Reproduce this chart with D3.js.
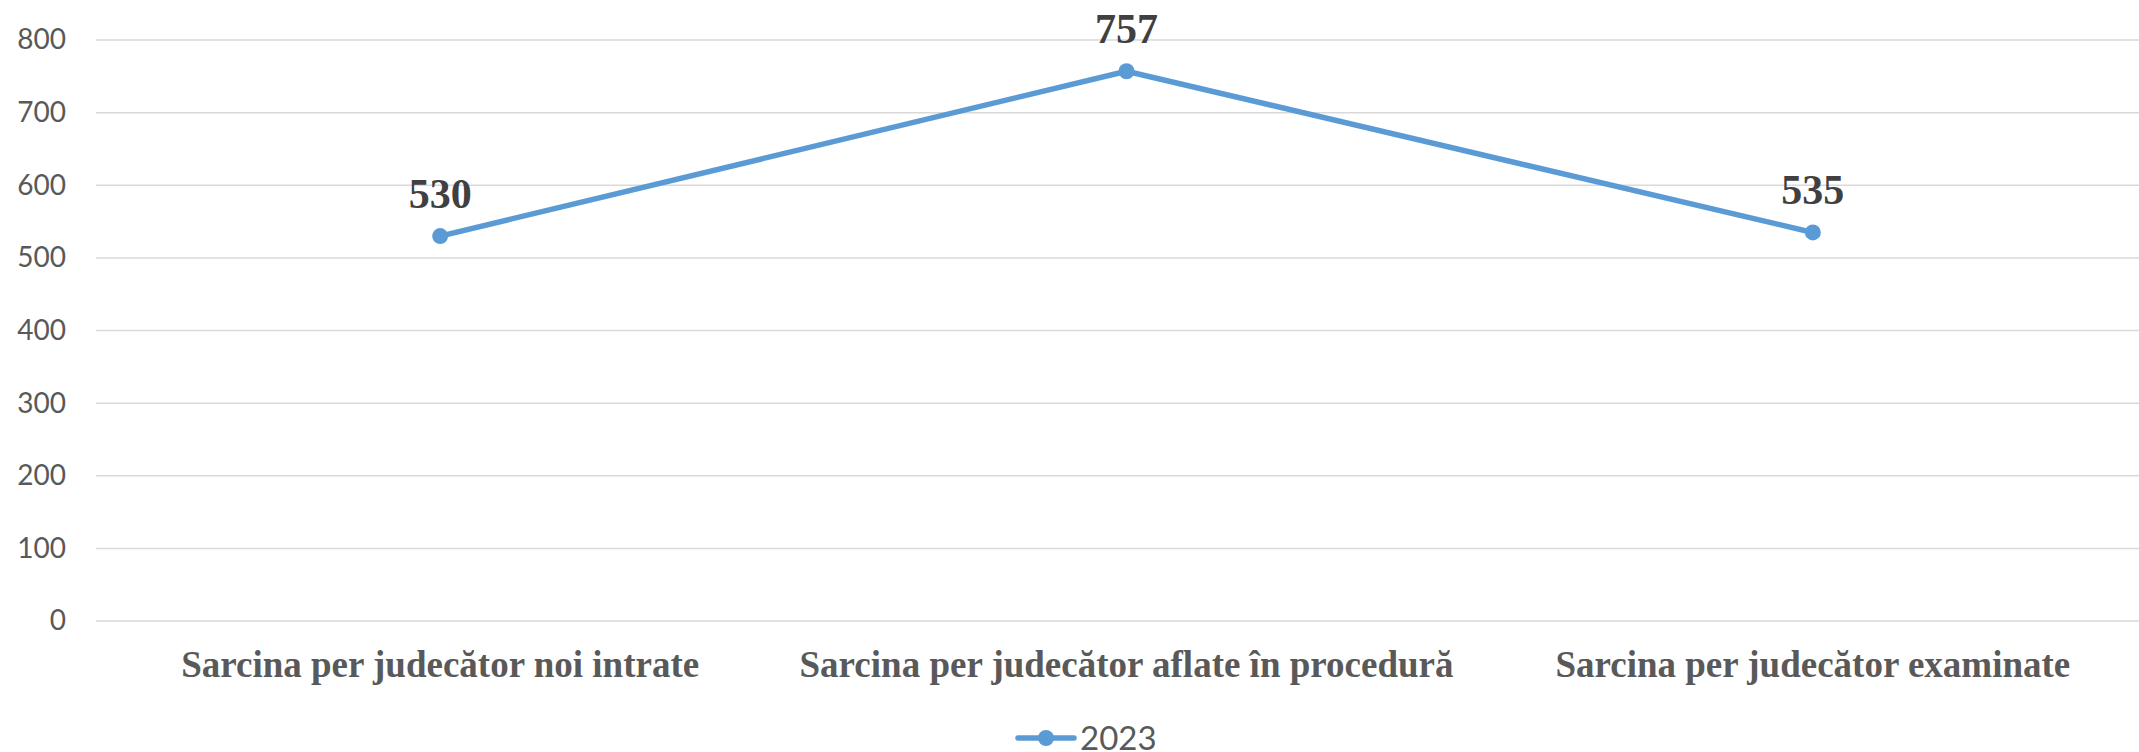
<!DOCTYPE html>
<html>
<head>
<meta charset="utf-8">
<script src="https://cdn.jsdelivr.net/npm/d3@7"></script>
<style>
  body { margin: 0; background: #fff; }
  svg { display: block; }
</style>
</head>
<body>
<div class="chart"></div>
<script>
var categories = ["Sarcina per judecător noi intrate", "Sarcina per judecător aflate în procedură", "Sarcina per judecător examinate"];
var values2023 = [530, 757, 535];
var yTicks = [0, 100, 200, 300, 400, 500, 600, 700, 800];
var seriesName = "2023";

var W = 2139, H = 752;
var plotLeft = 97, plotRight = 2156, plotTop = 40, plotBottom = 621;

var svg = d3.select(".chart").append("svg")
  .attr("width", W)
  .attr("height", H);

var x = d3.scaleBand().domain(categories).range([plotLeft, plotRight]);
var y = d3.scaleLinear().domain([0, 800]).range([plotBottom, plotTop]);

function cx(d) { return x(d) + x.bandwidth() / 2; }

// gridlines
svg.append("g")
  .selectAll("line")
  .data(yTicks)
  .enter()
  .append("line")
  .attr("x1", plotLeft - 1)
  .attr("x2", W)
  .attr("y1", function(d) { return y(d); })
  .attr("y2", function(d) { return y(d); })
  .attr("stroke", "#d9d9d9")
  .attr("stroke-width", 1.5);

// y axis labels
var yAxis = d3.axisLeft(y).tickValues(yTicks).tickSize(0).tickPadding(0);
var gy = svg.append("g")
  .attr("transform", "translate(66,0)")
  .call(yAxis);
gy.select(".domain").remove();
gy.selectAll("text")
  .attr("fill", "#595959")
  .style("font-family", "Lato, 'Open Sans', sans-serif")
  .style("font-size", "28px");

// x axis labels
var xAxis = d3.axisBottom(x).tickSize(0).tickPadding(0);
var gx = svg.append("g")
  .attr("transform", "translate(0," + plotBottom + ")")
  .call(xAxis);
gx.select(".domain").remove();
gx.selectAll("text")
  .attr("dy", null)
  .attr("y", 56)
  .attr("fill", "#595959")
  .style("font-family", "'Liberation Serif', 'Times New Roman', serif")
  .style("font-weight", "bold")
  .style("font-size", "37px");

var data = categories.map(function(c, i) { return { cat: c, v: values2023[i] }; });

// line
var line = d3.line()
  .x(function(d) { return cx(d.cat); })
  .y(function(d) { return y(d.v); });

svg.append("path")
  .datum(data)
  .attr("d", line)
  .attr("fill", "none")
  .attr("stroke", "#5b9bd5")
  .attr("stroke-width", 5.5)
  .attr("stroke-linejoin", "round")
  .attr("stroke-linecap", "round");

svg.append("g")
  .selectAll("circle")
  .data(data)
  .enter()
  .append("circle")
  .attr("cx", function(d) { return cx(d.cat); })
  .attr("cy", function(d) { return y(d.v); })
  .attr("r", 8)
  .attr("fill", "#5b9bd5");

// data labels
svg.append("g")
  .selectAll("text")
  .data(data)
  .enter()
  .append("text")
  .attr("x", function(d) { return cx(d.cat); })
  .attr("y", function(d) { return y(d.v) - 28; })
  .attr("text-anchor", "middle")
  .attr("fill", "#404040")
  .style("font-family", "'Liberation Serif', 'Times New Roman', serif")
  .style("font-weight", "bold")
  .style("font-size", "42px")
  .text(function(d) { return d.v; });

// legend
var lg = svg.append("g").attr("transform", "translate(1018,738)");
lg.append("line")
  .attr("x1", 0).attr("x2", 56)
  .attr("y1", 0).attr("y2", 0)
  .attr("stroke", "#5b9bd5")
  .attr("stroke-width", 5.5)
  .attr("stroke-linecap", "round");
lg.append("circle")
  .attr("cx", 28).attr("cy", 0).attr("r", 8)
  .attr("fill", "#5b9bd5");
lg.append("text")
  .attr("x", 62)
  .attr("y", 12)
  .attr("fill", "#595959")
  .style("font-family", "Lato, 'Open Sans', sans-serif")
  .style("font-size", "33px")
  .text(seriesName);
</script>
</body>
</html>
